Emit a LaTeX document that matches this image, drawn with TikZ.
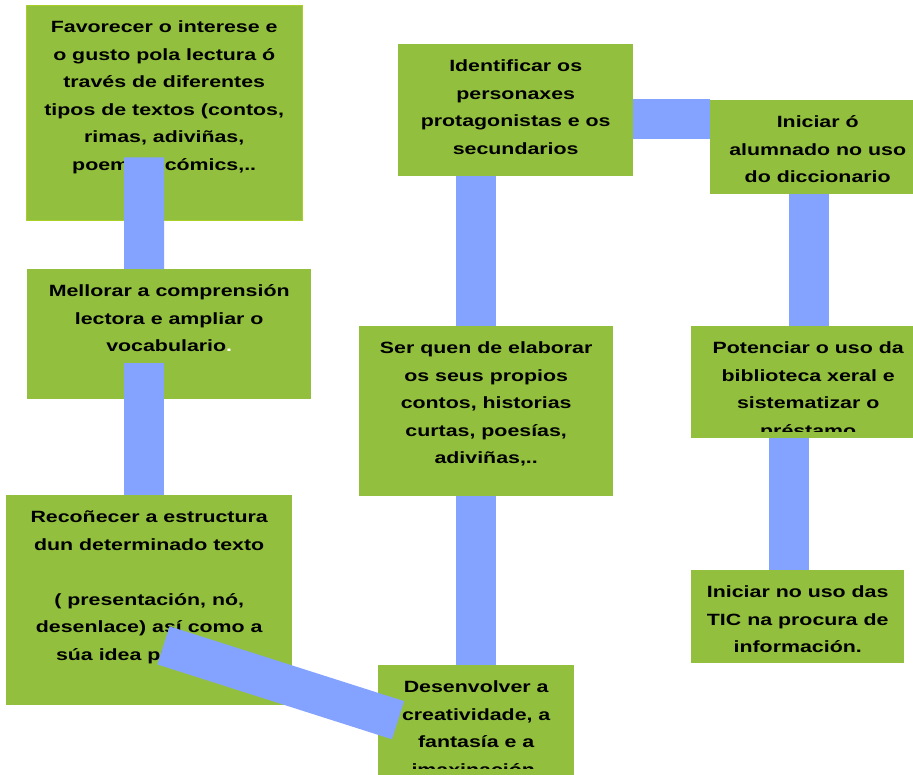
\documentclass[tikz,border=0pt]{standalone}
\usepackage{xcolor}
\usepackage{fontspec}
\usepackage{tikz}
\usetikzlibrary{calc}

\newfontfamily\goalfont{Liberation Sans}[FakeStretch=1.31]
\definecolor{goalgreen}{RGB}{146,192,62}
\definecolor{goalborder}{RGB}{170,206,40}
\definecolor{barblue}{RGB}{132,162,255}
\newcommand{\goaltext}[3]{\parbox[c][#2pt][t]{#1pt}{\centering\vspace*{8.5pt}\strut#3}}

\begin{document}
\begin{tikzpicture}[x=1pt,y=-1pt]
    \tikzstyle{goal} = [rectangle, fill=goalgreen, inner sep=0pt, anchor=north west, font=\goalfont\bfseries\fontsize{16.3}{27.5}\selectfont]
    \tikzstyle{link} = [line width=40pt, draw=barblue]
    \useasboundingbox (0,0) rectangle (913,775);

    % Favorecer
    \node[goal, draw=goalborder] (fav) at (26,5) {\goaltext{276}{215}{Favorecer o interese e\\o gusto pola lectura ó\\través de diferentes\\tipos de textos (contos,\\rimas, adiviñas,\\poemas, cómics,..}};

    % Mellorar
    \node[goal] (mell) at (27,269) {\goaltext{284}{130}{Mellorar a comprensión\\lectora e ampliar o\\vocabulario{\color{white}.}}};

    % Recoñecer
    \node[goal] (rec) at (6,495) {\goaltext{286}{210}{Recoñecer a estructura\\dun determinado texto\\[27.5pt]( presentación, nó,\\desenlace) así como a\\súa idea principal.}};

    % Identificar
    \node[goal] (iden) at (398,44) {\goaltext{235}{132}{Identificar os\\personaxes\\protagonistas e os\\secundarios}};

    % Ser quen
    \node[goal] (ser) at (359,326) {\goaltext{254}{170}{Ser quen de elaborar\\os seus propios\\contos, historias\\curtas, poesías,\\adiviñas,..}};

    % Desenvolver
    \begin{scope}
        \clip (378,665) rectangle (574,769);
        \node[goal] (des) at (378,665) {\goaltext{196}{110}{Desenvolver a\\creatividade, a\\fantasía e a\\imaxinación.}};
    \end{scope}
    \fill[goalgreen] ($(des.south west)+(0,-6)$) rectangle (des.south east);

    % Iniciar o alumnado
    \node[goal] (inio) at (710,100) {\goaltext{215}{94}{Iniciar ó\\alumnado no uso\\do diccionario}};

    % Potenciar
    \begin{scope}
        \clip (691,326) rectangle (925,432);
        \node[goal] (pot) at (691,326) {\goaltext{234}{112}{Potenciar o uso da\\biblioteca xeral e\\sistematizar o\\préstamo}};
    \end{scope}
    \fill[goalgreen] ($(pot.south west)+(0,-6)$) rectangle (pot.south east);

    % TIC
    \node[goal] (tic) at (691,570) {\goaltext{213}{93}{Iniciar no uso das\\TIC na procura de\\información.}};

    % Links
    \draw[link] ($(fav.south)+(-20,-63)$) -- ($(mell.north west)+(117,0)$);
    \draw[link] ($(mell.south west)+(117,-36)$) -- ($(rec.north west)+(138,0)$);
    \draw[link] ($(rec.south west)+(157.5,-60)$) -- ($(des.west)+(20,0)$);
    \draw[link] ($(iden.south west)+(78,0)$) -- ($(ser.north west)+(117,0)$);
    \draw[link] ($(ser.south west)+(117,0)$) -- ($(des.north west)+(98,0)$);
    \draw[link] ($(iden.north east)+(0,75)$) -- ($(inio.north west)+(0,19)$);
    \draw[link] ($(inio.south west)+(98.5,0)$) -- ($(pot.north west)+(117.5,0)$);
    \draw[link] ($(pot.south west)+(97.5,0)$) -- ($(tic.north west)+(97.5,0)$);
\end{tikzpicture}
\end{document}
